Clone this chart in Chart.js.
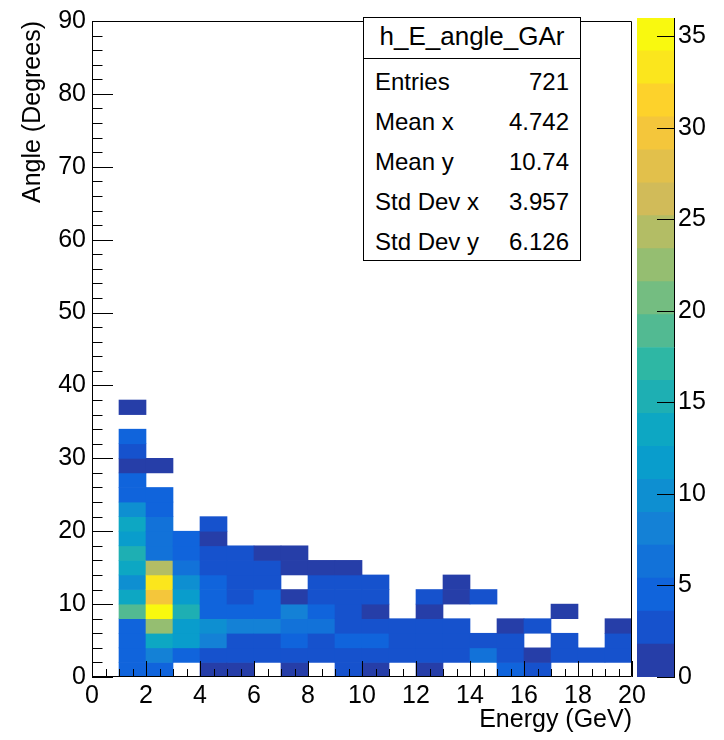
<!DOCTYPE html>
<html>
<head>
<meta charset="utf-8">
<script src="https://cdn.jsdelivr.net/npm/chart.js@4.4.0/dist/chart.umd.min.js"></script>
<style>
  html, body { margin: 0; padding: 0; background: #fff; }
  #wrap { position: relative; width: 724px; height: 740px; font-family: "Liberation Sans", Arial, sans-serif; }
  #main { position: absolute; left: 0; top: 0; }
  #palette { position: absolute; left: 600px; top: 0; }
  #stats { position: absolute; left: 363px; top: 17px; width: 218px; height: 244px; box-sizing: border-box;
           border: 1px solid #000; background: #fff; color: #000; overflow: hidden; }
  #stats .st-title { height: 40px; line-height: 36px; text-align: center; font-size: 26px; border-bottom: 1px solid #000; }
  #stats .st-rows { padding: 3px 11px 0 11px; font-size: 24px; }
  #stats .st-row { display: flex; justify-content: space-between; height: 40px; line-height: 40px; }
</style>
</head>
<body>
<div id="wrap">
  <canvas id="main" width="724" height="740"></canvas>
  <canvas id="palette" width="124" height="740"></canvas>
  <div id="stats"></div>
</div>
<script>
// energy bins: lower edges in GeV, 1 GeV wide
const energyBins = [1, 2, 3, 4, 5, 6, 7, 8, 9, 10, 11, 12, 13, 14, 15, 16, 17, 18, 19];
// angle bins: lower edges in degrees, 2 degrees wide
const angleBins = [0, 2, 4, 6, 8, 10, 12, 14, 16, 18, 20, 22, 24, 26, 28, 30, 32, 34, 36];

// entries per angle bin (0-2, 2-4, ...) for each energy bin
const e01 = [4, 4, 5, 5, 18, 13, 10, 13, 15, 12, 13, 9, 5, 4, 1, 3, 4, 0, 1];
const e02 = [4, 8, 13, 23, 36, 29, 33, 24, 6, 7, 6, 5, 4, 0, 1];
const e03 = [0, 4, 11, 12, 15, 12, 9, 7, 5, 4];
const e04 = [1, 3, 8, 9, 4, 5, 4, 3, 3, 1, 3];
const e05 = [1, 3, 2, 8, 4, 3, 3, 2, 3];
const e06 = [0, 3, 3, 8, 4, 4, 3, 2, 1];
const e07 = [1, 3, 4, 6, 8, 1, 0, 1, 1];
const e08 = [0, 3, 3, 7, 4, 3, 2, 1];
const e09 = [2, 3, 4, 3, 3, 3, 3, 1];
const e10 = [1, 3, 5, 3, 1, 3, 3];
const e11 = [0, 3, 3, 3];
const e12 = [1, 3, 3, 3, 1, 3];
const e13 = [0, 3, 3, 3, 0, 1, 1];
const e14 = [0, 6, 2, 0, 0, 3];
const e15 = [4, 3, 2, 1];
const e16 = [2, 1, 0, 3];
const e17 = [0, 2, 3, 0, 1];
const e18 = [0, 2];
const e19 = [0, 3, 3, 1];
const columns = [e01, e02, e03, e04, e05, e06, e07, e08, e09, e10,
                 e11, e12, e13, e14, e15, e16, e17, e18, e19];

const xTicks = [0, 2, 4, 6, 8, 10, 12, 14, 16, 18, 20];
const yTicks = [0, 10, 20, 30, 40, 50, 60, 70, 80, 90];
const zTicks = [0, 5, 10, 15, 20, 25, 30, 35];

const statNames = ['Entries', 'Mean x', 'Mean y', 'Std Dev x', 'Std Dev y'];
const statValues = ['721', '4.742', '10.74', '3.957', '6.126'];

// kBird palette, 255 colours, 20 contour levels
const birdStops = [0.0000, 0.1250, 0.2500, 0.3750, 0.5000, 0.6250, 0.7500, 0.8750, 1.0000];
const birdR = [0.2082, 0.0592, 0.0780, 0.0232, 0.1802, 0.5301, 0.8186, 0.9956, 0.9764];
const birdG = [0.1664, 0.3599, 0.5041, 0.6419, 0.7178, 0.7492, 0.7328, 0.7862, 0.9832];
const birdB = [0.5293, 0.8684, 0.8385, 0.7914, 0.6425, 0.4662, 0.3499, 0.1968, 0.0539];
const nColors = 255, nContours = 20;

const palette = [];
for (let g = 1; g < birdStops.length; g++) {
  const from = Math.floor(nColors * birdStops[g - 1]);
  const n = Math.floor(nColors * birdStops[g]) - from;
  for (let c = 0; c < n; c++) {
    const f = c / n;
    const ch = arr => Math.round(255 * (arr[g - 1] + f * (arr[g] - arr[g - 1])));
    palette.push(`rgb(${ch(birdR)},${ch(birdG)},${ch(birdB)})`);
  }
}

const zMax = Math.max(...columns.flat());
const bandColor = band => palette[Math.min(nColors - 1, Math.floor((band + 0.99) * nColors / nContours))];
const cellColor = n => bandColor(Math.min(nContours - 1, Math.floor(0.01 + n * nContours / zMax)));

// one floating bar per non-empty cell
const cells = [];
columns.forEach((col, i) => col.forEach((n, j) => {
  if (n > 0) cells.push({ x: energyBins[i] + 0.5, y: [angleBins[j], angleBins[j] + 2], n });
}));

// ticks drawn inside the frame, ROOT style, with minor divisions
const rootAxes = {
  id: 'rootAxes',
  afterDatasetsDraw(chart, args, opts) {
    const { ctx, chartArea: a } = chart;
    ctx.save();
    ctx.strokeStyle = '#000';
    ctx.lineWidth = 1;
    ctx.beginPath();
    if (opts.frame) ctx.rect(a.left + 0.5, a.top + 0.5, a.right - a.left - 1, a.bottom - a.top - 1);
    if (opts.rightLine) { ctx.moveTo(a.right - 0.5, a.top); ctx.lineTo(a.right - 0.5, a.bottom); }
    for (const t of opts.ticks) {
      const s = chart.scales[t.scale];
      const steps = Math.floor((s.max - s.min) / t.minor + 1e-6);
      for (let i = 0; i <= steps; i++) {
        const v = s.min + i * t.minor;
        const major = Math.abs(v / t.major - Math.round(v / t.major)) < 1e-6;
        const len = major ? t.len : t.len / 2;
        const p = Math.round(s.getPixelForValue(v)) + 0.5;
        if (t.side === 'left') { ctx.moveTo(a.left, p); ctx.lineTo(a.left + len, p); }
        else if (t.side === 'right') { ctx.moveTo(a.right, p); ctx.lineTo(a.right - len, p); }
        else { ctx.moveTo(p, a.bottom); ctx.lineTo(p, a.bottom - len); }
      }
    }
    ctx.stroke();
    ctx.restore();
  }
};

Chart.defaults.font.family = '"Liberation Sans", Arial, sans-serif';
Chart.defaults.color = '#000';
Chart.defaults.animation = false;

const labelFont = { size: 25 };

new Chart(document.getElementById('main'), {
  type: 'bar',
  data: {
    datasets: [{
      data: cells,
      backgroundColor: c => cellColor(c.raw.n),
      borderWidth: 0,
      categoryPercentage: 1,
      barPercentage: 1
    }]
  },
  options: {
    responsive: false,
    layout: { padding: { left: 0, top: 17, right: 92, bottom: 0 } },
    plugins: {
      legend: { display: false },
      tooltip: { enabled: false },
      rootAxes: {
        frame: true,
        ticks: [
          { scale: 'x', side: 'bottom', major: 2, minor: 0.5, len: 16 },
          { scale: 'y', side: 'left', major: 10, minor: 2, len: 21 }
        ]
      }
    },
    scales: {
      x: {
        type: 'linear', min: 0, max: 20, offset: false,
        grid: { display: false, drawTicks: false, offset: false },
        border: { display: false },
        afterBuildTicks: s => { s.ticks = xTicks.map(value => ({ value })); },
        ticks: { font: labelFont, padding: 4, maxRotation: 0 },
        title: { display: true, text: 'Energy (GeV)', align: 'end', font: labelFont, padding: { top: 0, bottom: 5 } },
        afterFit: s => { s.height = 63; }
      },
      y: {
        type: 'linear', min: 0, max: 90,
        grid: { display: false, drawTicks: false },
        border: { display: false },
        afterBuildTicks: s => { s.ticks = yTicks.map(value => ({ value })); },
        ticks: { font: labelFont, padding: 6 },
        title: { display: true, text: 'Angle (Degrees)', align: 'end', font: labelFont, padding: { top: 18, bottom: 0 } },
        afterFit: s => { s.width = 92; }
      }
    }
  },
  plugins: [rootAxes]
});

// colour scale: one stacked band per contour level
const bands = [];
for (let k = 0; k < nContours; k++) {
  bands.push({ data: [zMax / nContours], backgroundColor: bandColor(k), borderWidth: 0,
               categoryPercentage: 1, barPercentage: 1 });
}

new Chart(document.getElementById('palette'), {
  type: 'bar',
  data: { labels: [''], datasets: bands },
  options: {
    responsive: false,
    layout: { padding: { left: 37, top: 17, right: 0, bottom: 63 } },
    plugins: {
      legend: { display: false },
      tooltip: { enabled: false },
      rootAxes: {
        rightLine: true,
        ticks: [{ scale: 'y', side: 'right', major: 5, minor: 5, len: 18 }]
      }
    },
    scales: {
      x: { stacked: true, display: false },
      y: {
        stacked: true, position: 'right', min: 0, max: zMax,
        grid: { display: false, drawTicks: false },
        border: { display: false },
        afterBuildTicks: s => { s.ticks = zTicks.map(value => ({ value })); },
        ticks: { font: labelFont, padding: 3 },
        afterFit: s => { s.width = 49; }
      }
    }
  },
  plugins: [rootAxes]
});

// statistics box
const stats = document.getElementById('stats');
const title = document.createElement('div');
title.className = 'st-title';
title.textContent = 'h_E_angle_GAr';
stats.appendChild(title);
const rows = document.createElement('div');
rows.className = 'st-rows';
statNames.forEach((name, i) => {
  const row = document.createElement('div');
  row.className = 'st-row';
  const a = document.createElement('span');
  a.textContent = name;
  const b = document.createElement('span');
  b.textContent = statValues[i];
  row.append(a, b);
  rows.appendChild(row);
});
stats.appendChild(rows);
</script>
</body>
</html>
